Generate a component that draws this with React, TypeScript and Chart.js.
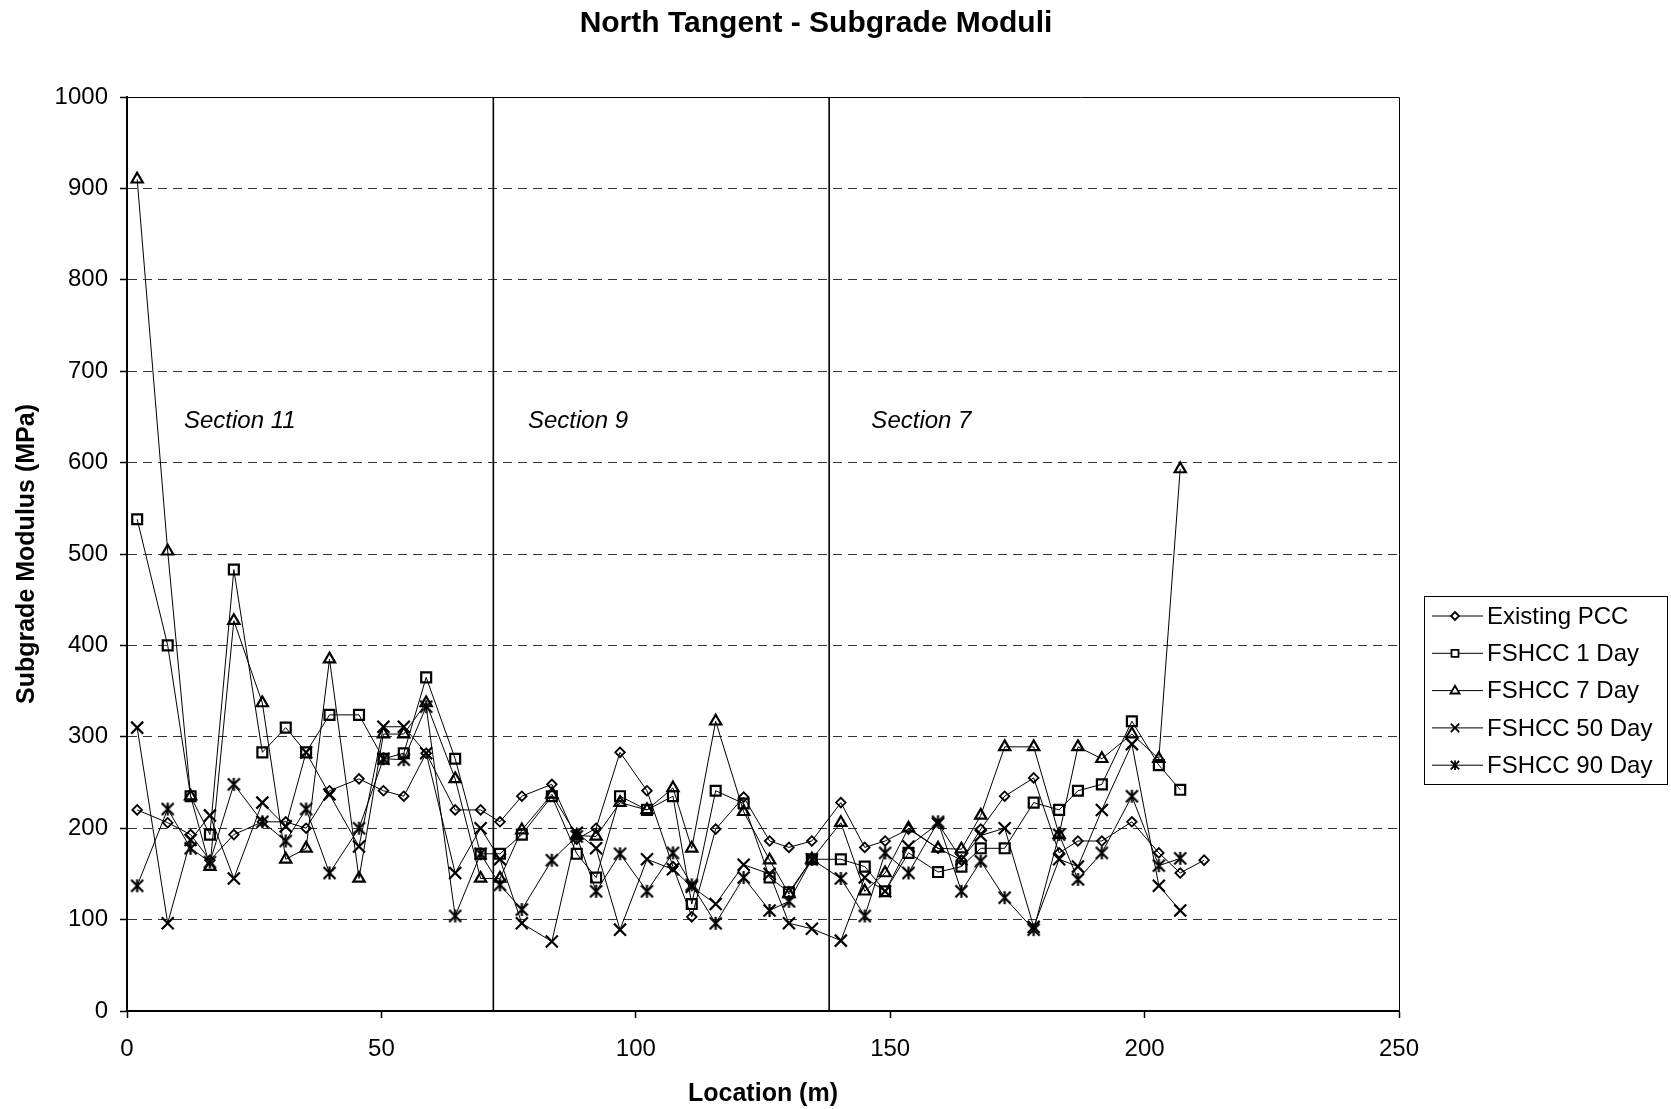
import React, { useEffect, useRef } from 'react';
import { Chart, registerables } from 'chart.js';

Chart.register(...registerables);

// ---- data ----
const locations = [2, 8, 12.5, 16.3, 21, 26.6, 31.2, 35.2, 39.8, 45.6, 50.4, 54.4, 58.8, 64.5, 69.5, 73.3, 77.6, 83.5, 88.4, 92.2, 96.9, 102.2, 107.3, 111, 115.7, 121.2, 126.3, 130.1, 134.6, 140.3, 145, 149, 153.6, 159.4, 164, 167.8, 172.5, 178.2, 183.2, 186.9, 191.6, 197.5, 202.8, 207, 211.7];

const existingPCC = [220, 206, 193, 165, 193, 207, 207, 200, 241, 254, 241, 235, 282, 220, 220, 207, 235, 248, 188, 200, 283, 241, 158, 103, 199, 234, 186, 179, 186, 228, 179, 186, 199, 178, 165, 199, 235, 255, 173, 186, 186, 207, 173, 151, 165];
const fshcc1Day = [538, 400, 235, 193, 483, 283, 310, 283, 324, 324, 276, 282, 365, 276, 172, 172, 193, 235, 172, 146, 235, 220, 235, 117, 241, 227, 146, 130, 166, 166, 158, 131, 173, 152, 158, 178, 178, 228, 220, 241, 248, 317, 269, 242];
const fshcc7Day = [910, 503, 235, 158, 427, 337, 166, 178, 385, 145, 303, 303, 337, 254, 145, 145, 198, 237, 192, 191, 228, 220, 244, 178, 317, 218, 165, 128, 166, 206, 131, 151, 200, 178, 177, 214, 289, 289, 193, 289, 276, 303, 276, 593];
const fshcc50Day = [310, 96, 187, 214, 145, 228, 202, 283, 237, 180, 311, 311, 282, 151, 200, 166, 96, 76, 195, 178, 89, 166, 155, 136, 117, 160, 150, 96, 90, 77, 146, 131, 180, 205, 166, 192, 200, 92, 166, 158, 220, 292, 137, 110];
const fshcc90Day = [137, 221, 178, 163, 248, 207, 186, 221, 151, 200, 276, 275, 333, 104, 172, 138, 111, 165, 191, 131, 172, 131, 173, 138, 96, 146, 110, 120, 166, 145, 104, 173, 151, 207, 131, 164, 124, 89, 193, 144, 173, 235, 159, 167];

const seriesNames = ['Existing PCC', 'FSHCC 1 Day', 'FSHCC 7 Day', 'FSHCC 50 Day', 'FSHCC 90 Day'];
const sectionBoundaries = [72, 138];
const sectionLabels = ['Section 11', 'Section 9', 'Section 7'];
const sectionLabelX = [11.2, 78.8, 146.3];
const sectionLabelY = 645;

const chartTitle = 'North Tangent - Subgrade Moduli';
const xTitle = 'Location (m)';
const yTitle = 'Subgrade Modulus (MPa)';

const FONT = "'Liberation Sans', Arial, Helvetica, sans-serif";

function makeAsterisk(half: number, lw: number): HTMLCanvasElement {
  const size = Math.ceil(half * 2 + lw * 2 + 2);
  const c = document.createElement('canvas');
  c.width = size;
  c.height = size;
  const g = c.getContext('2d')!;
  const m = size / 2;
  g.strokeStyle = '#000';
  g.lineWidth = lw;
  g.beginPath();
  g.moveTo(m - half, m - half); g.lineTo(m + half, m + half);
  g.moveTo(m + half, m - half); g.lineTo(m - half, m + half);
  g.moveTo(m, m - half - 0.5); g.lineTo(m, m + half + 0.5);
  g.stroke();
  return c;
}

function pts(values: number[]) {
  return values.map((v, i) => ({ x: locations[i], y: v }));
}

function drawLegendMarker(ctx: CanvasRenderingContext2D, kind: number, x: number, y: number) {
  ctx.save();
  ctx.strokeStyle = '#000';
  ctx.lineWidth = 1.8;
  ctx.beginPath();
  if (kind === 0) {
    const r = 4;
    ctx.moveTo(x, y - r); ctx.lineTo(x + r, y); ctx.lineTo(x, y + r); ctx.lineTo(x - r, y); ctx.closePath();
    ctx.fillStyle = '#fff'; ctx.fill();
  } else if (kind === 1) {
    const r = 3.5;
    ctx.rect(x - r, y - r, 2 * r, 2 * r);
    ctx.fillStyle = '#fff'; ctx.fill();
  } else if (kind === 2) {
    const r = 4.8;
    ctx.moveTo(x, y - r); ctx.lineTo(x + r * 0.95, y + r * 0.6); ctx.lineTo(x - r * 0.95, y + r * 0.6); ctx.closePath();
    ctx.fillStyle = '#fff'; ctx.fill();
  } else if (kind === 3) {
    const r = 4.2;
    ctx.moveTo(x - r, y - r); ctx.lineTo(x + r, y + r);
    ctx.moveTo(x + r, y - r); ctx.lineTo(x - r, y + r);
  } else {
    const r = 4.2;
    ctx.moveTo(x - r, y - r); ctx.lineTo(x + r, y + r);
    ctx.moveTo(x + r, y - r); ctx.lineTo(x - r, y + r);
    ctx.moveTo(x, y - r - 0.5); ctx.lineTo(x, y + r + 0.5);
  }
  ctx.stroke();
  ctx.restore();
}

const decorPlugin = {
  id: 'decor',
  afterDraw(chart: any) {
    const { ctx, chartArea, scales } = chart;
    const xs = scales.x;
    const ys = scales.y;
    ctx.save();
    // top & right frame
    ctx.strokeStyle = '#000';
    ctx.lineWidth = 1;
    ctx.beginPath();
    ctx.moveTo(chartArea.left, chartArea.top + 0.5);
    ctx.lineTo(chartArea.right + 0.5, chartArea.top + 0.5);
    ctx.lineTo(chartArea.right + 0.5, chartArea.bottom);
    ctx.stroke();

    // title
    ctx.fillStyle = '#000';
    ctx.font = `bold 30px ${FONT}`;
    ctx.textAlign = 'center';
    ctx.textBaseline = 'middle';
    ctx.fillText(chartTitle, 816, 24);

    // section labels
    ctx.font = `italic 24px ${FONT}`;
    ctx.textAlign = 'left';
    sectionLabels.forEach((t, i) => {
      ctx.fillText(t, xs.getPixelForValue(sectionLabelX[i]), ys.getPixelForValue(sectionLabelY));
    });

    // legend
    const boxL = chartArea.right + 25;
    const boxT = 596;
    const boxW = 243;
    const boxH = 188;
    ctx.strokeStyle = '#000';
    ctx.lineWidth = 1;
    ctx.strokeRect(boxL + 0.5, boxT + 0.5, boxW, boxH);
    ctx.font = `24px ${FONT}`;
    ctx.textBaseline = 'middle';
    seriesNames.forEach((name, i) => {
      const y = boxT + 20 + i * 37.3;
      ctx.beginPath();
      ctx.lineWidth = 1;
      ctx.moveTo(boxL + 8, y);
      ctx.lineTo(boxL + 59, y);
      ctx.stroke();
      drawLegendMarker(ctx, i, boxL + 31, y);
      ctx.fillStyle = '#000';
      ctx.fillText(name, boxL + 63, y + 1);
    });
    ctx.restore();
  },
};

export default function App() {
  const ref = useRef<HTMLCanvasElement | null>(null);

  useEffect(() => {
    const canvas = ref.current;
    if (!canvas) return;
    const asterisk = makeAsterisk(6, 2.2);
    const common = {
      showLine: true,
      borderColor: '#000',
      borderWidth: 1,
      pointBorderColor: '#000',
      pointBackgroundColor: 'rgba(0,0,0,0)',
      pointHoverRadius: 0,
      tension: 0,
    };
    const datasets: any[] = [
      { ...common, label: seriesNames[0], data: pts(existingPCC), pointStyle: 'rectRot', pointRadius: 4.8, pointBorderWidth: 1.8 },
      { ...common, label: seriesNames[1], data: pts(fshcc1Day), pointStyle: 'rect', pointRadius: 7, pointBorderWidth: 2.2 },
      { ...common, label: seriesNames[2], data: pts(fshcc7Day), pointStyle: 'triangle', pointRadius: 6.5, pointBorderWidth: 2.2 },
      { ...common, label: seriesNames[3], data: pts(fshcc50Day), pointStyle: 'crossRot', pointRadius: 8.5, pointBorderWidth: 2.2 },
      { ...common, label: seriesNames[4], data: pts(fshcc90Day), pointStyle: asterisk, pointRadius: 6 },
      ...sectionBoundaries.map((b) => ({
        label: 'section',
        data: [{ x: b, y: 0 }, { x: b, y: 1000 }],
        showLine: true,
        borderColor: '#000',
        borderWidth: 1.6,
        pointRadius: 0,
        pointHoverRadius: 0,
      })),
    ];

    const chart = new Chart(canvas, {
      type: 'scatter',
      data: { datasets },
      options: {
        animation: false,
        responsive: false,
        devicePixelRatio: 1,
        events: [],
        layout: { padding: { top: 97, right: 272, bottom: 0, left: 0 } },
        plugins: {
          legend: { display: false },
          tooltip: { enabled: false },
          title: { display: false },
        },
        scales: {
          x: {
            type: 'linear',
            min: 0,
            max: 250,
            afterFit: (s: any) => { s.height = 98; },
            ticks: { stepSize: 50, color: '#000', font: { family: FONT, size: 24 }, padding: 17, maxRotation: 0, callback: (v: any) => String(v) },
            grid: { drawOnChartArea: false, drawTicks: true, tickLength: 7, tickColor: '#000', tickWidth: 1.5 },
            border: { display: true, color: '#000', width: 2 },
            title: { display: true, text: xTitle, color: '#000', font: { family: FONT, size: 25, weight: 'bold' }, padding: { top: 0, bottom: 0 } },
          },
          y: {
            type: 'linear',
            min: 0,
            max: 1000,
            afterFit: (s: any) => { s.width = 127; },
            ticks: { stepSize: 100, color: '#000', font: { family: FONT, size: 24 }, padding: 12, callback: (v: any) => String(v) },
            grid: {
              drawOnChartArea: true,
              drawTicks: true,
              tickLength: 7,
              tickColor: '#000',
              tickWidth: 1.5,
              tickBorderDash: [],
              lineWidth: 1,
              color: (c: any) => (c.tick && (c.tick.value === 0 || c.tick.value === 1000) ? 'rgba(0,0,0,0)' : '#333'),
            },
            border: { display: true, color: '#000', width: 2, dash: [9, 6] },
            title: { display: true, text: yTitle, color: '#000', font: { family: FONT, size: 25, weight: 'bold' }, padding: { top: 12, bottom: 0 } },
          },
        },
      },
      plugins: [decorPlugin],
    } as any);

    return () => chart.destroy();
  }, []);

  return (
    <div style={{ position: 'absolute', left: 0, top: 0, width: 1671, height: 1109, background: '#fff' }}>
      <canvas ref={ref} width={1671} height={1109} style={{ display: 'block' }} />
    </div>
  );
}
